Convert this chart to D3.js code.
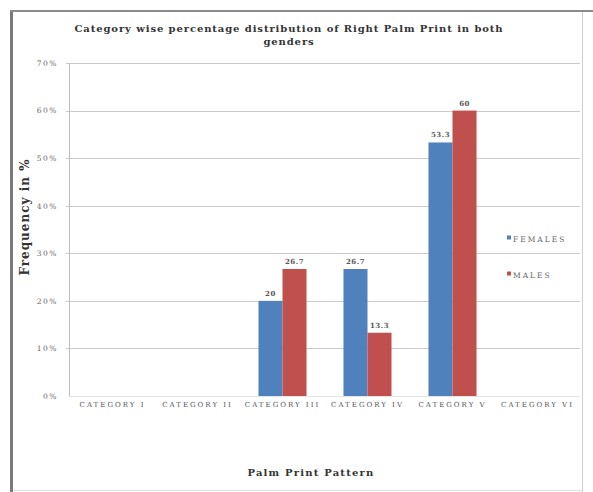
<!DOCTYPE html>
<html>
<head>
<meta charset="utf-8">
<script src="https://cdn.jsdelivr.net/npm/d3@7"></script>
<style>
  html, body { margin: 0; padding: 0; background: #fff; }
  svg { display: block; }
  text { font-family: "DejaVu Serif", serif; }
</style>
</head>
<body>
<svg id="chart" width="593" height="492"></svg>
<script>
// Palm print categories and the share (%) of each gender in them
const categories = ["CATEGORY I", "CATEGORY II", "CATEGORY III", "CATEGORY IV", "CATEGORY V", "CATEGORY VI"];
const seriesNames = ["FEMALES", "MALES"];
const females = [0, 0, 20, 26.7, 53.3, 0];
const males = [0, 0, 26.7, 13.3, 60, 0];
const yTicks = [0, 10, 20, 30, 40, 50, 60, 70];
const colors = ["#4F81BD", "#C0504D"];

const svg = d3.select("#chart");
const W = 593, H = 492;

// frame of the chart object
svg.append("rect").attr("x", 0).attr("y", 0).attr("width", W).attr("height", H).attr("fill", "#fff");
svg.append("line").attr("x1", 11.5).attr("x2", 11.5).attr("y1", 10).attr("y2", H)
  .attr("stroke", "#7a7a7a").attr("stroke-width", 3);
svg.append("line").attr("x1", 10).attr("x2", W).attr("y1", 11).attr("y2", 11)
  .attr("stroke", "#8a8a8a").attr("stroke-width", 2);
svg.append("line").attr("x1", 582.5).attr("x2", 582.5).attr("y1", 12).attr("y2", H)
  .attr("stroke", "#d0d0d0").attr("stroke-width", 1);
svg.append("line").attr("x1", 13).attr("x2", 583).attr("y1", 490.5).attr("y2", 490.5)
  .attr("stroke", "#e0e0e0").attr("stroke-width", 1);

const plot = { left: 70, right: 580, top: 63, bottom: 396 };

const x = d3.scaleBand().domain(categories).range([plot.left, plot.right])
  .paddingInner(0.435).paddingOuter(0.2175);
const xs = d3.scaleBand().domain(seriesNames).range([0, x.bandwidth()]);
const y = d3.scaleLinear().domain([0, 70]).range([plot.bottom, plot.top]);

// horizontal gridlines with short outer ticks
const grid = svg.append("g");
grid.selectAll("line.g").data(yTicks.filter(d => d > 0)).join("line")
  .attr("class", "g")
  .attr("x1", plot.left - 4).attr("x2", plot.right)
  .attr("y1", d => Math.round(y(d)) + 0.5).attr("y2", d => Math.round(y(d)) + 0.5)
  .attr("stroke", "#cacaca").attr("stroke-width", 1);

// y axis
const yAxis = d3.axisLeft(y).tickValues(yTicks).tickFormat(d => d + "%").tickSize(0).tickPadding(11);
const ya = svg.append("g").attr("transform", `translate(${plot.left - 1},0)`).call(yAxis);
ya.select(".domain").attr("stroke", "#bdbdbd");
ya.selectAll("text").attr("font-size", 7.5).attr("fill", "#666").attr("letter-spacing", 1.5)
  .attr("font-family", "DejaVu Serif, serif");

// bars
const rows = categories.map((c, i) => ({ cat: c, vals: [females[i], males[i]] }));
const groups = svg.append("g").selectAll("g").data(rows).join("g")
  .attr("transform", d => `translate(${x(d.cat)},0)`);
groups.selectAll("rect").data(d => d.vals.map((v, k) => ({ v, k })).filter(e => e.v > 0)).join("rect")
  .attr("x", e => xs(seriesNames[e.k]))
  .attr("width", xs.bandwidth())
  .attr("y", e => y(e.v))
  .attr("height", e => y(0) - y(e.v))
  .attr("fill", e => colors[e.k]);
groups.selectAll("text").data(d => d.vals.map((v, k) => ({ v, k })).filter(e => e.v > 0)).join("text")
  .attr("x", e => xs(seriesNames[e.k]) + xs.bandwidth() / 2)
  .attr("y", e => y(e.v) - 5)
  .attr("text-anchor", "middle")
  .attr("font-size", 7).attr("font-weight", "bold").attr("fill", "#555").attr("letter-spacing", 0.5)
  .text(e => e.v);

// x axis
const xAxis = d3.axisBottom(x).tickSize(0).tickPadding(6);
const xa = svg.append("g").attr("transform", `translate(0,${plot.bottom})`).call(xAxis);
xa.select(".domain").attr("stroke", "#c8c8c8").attr("stroke-dasharray", "1,1");
xa.selectAll("text").attr("font-size", 7).attr("fill", "#555").attr("letter-spacing", 2)
  .attr("font-family", "DejaVu Serif, serif");

// legend
const legend = svg.append("g").attr("transform", "translate(507,239)");
seriesNames.forEach((s, i) => {
  const g = legend.append("g").attr("transform", `translate(0,${i * 36})`);
  g.append("rect").attr("x", 0).attr("y", -3.5).attr("width", 4).attr("height", 4).attr("fill", colors[i]);
  g.append("text").attr("x", 6).attr("y", 2.5).attr("font-size", 7.5).attr("fill", "#666")
    .attr("letter-spacing", 2).text(s);
});

// titles
const title = svg.append("text").attr("x", 289).attr("y", 32)
  .attr("text-anchor", "middle").attr("font-size", 10).attr("font-weight", "bold").attr("fill", "#333")
  .attr("letter-spacing", 0.9);
title.append("tspan").attr("x", 289).text("Category wise percentage distribution of Right Palm Print in both");
title.append("tspan").attr("x", 289).attr("dy", 13).text("genders");

svg.append("text").attr("x", 311).attr("y", 476).attr("text-anchor", "middle")
  .attr("font-size", 10).attr("font-weight", "bold").attr("fill", "#333").attr("letter-spacing", 1.2)
  .text("Palm Print Pattern");

svg.append("text").attr("transform", "translate(29,217) rotate(-90)").attr("text-anchor", "middle")
  .attr("font-size", 12).attr("font-weight", "bold").attr("fill", "#333").attr("letter-spacing", 1)
  .text("Frequency in %");
</script>
</body>
</html>
